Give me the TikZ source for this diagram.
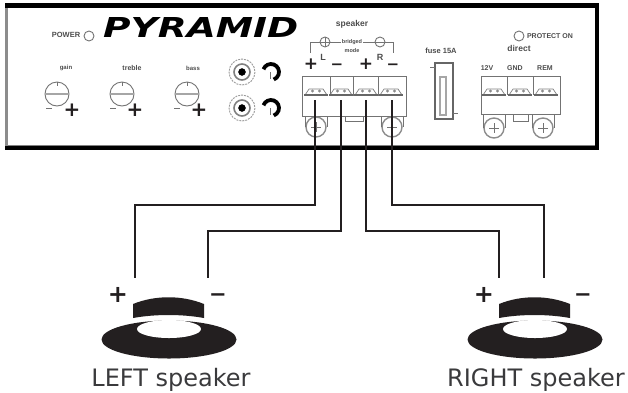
\documentclass[tikz,border=0pt]{standalone}
\usepackage{fontspec}
\setmainfont{DejaVu Sans}
\newfontfamily\tinyfont{Liberation Sans}
\usetikzlibrary{calc}
\definecolor{inkblack}{HTML}{231F20}
\definecolor{inkgray}{HTML}{3A3A3C}
\tikzset{
	wire/.style={line width=2pt, color=inkblack},
	faint/.style={line width=0.9pt, color=black!55},
	faintbar/.style={line width=2.6pt, color=black!35},
	tinytext/.style={font=\tinyfont\bfseries\fontsize{#1}{#1}\selectfont, text=black!70, inner sep=0pt},
	tinytext/.default=6,
	pluslabel/.style={font=\bfseries\fontsize{#1}{#1}\selectfont, text=inkblack, inner sep=0pt},
	caption/.style={font=\fontsize{24}{24}\selectfont, text=inkgray, inner sep=0pt, anchor=base}
}
\def\knobdial(#1,#2){
	\draw[faint] (#1, #2) circle (12);
	\draw[faintbar] (#1-11, #2) -- (#1+11, #2);
	\draw[faint] (#1, #2-12) -- (#1, #2-8);
}
\def\jackplug(#1,#2){
	\draw[line width=0.9pt, color=black!40, dash pattern=on 2pt off 1pt] (#1, #2) circle (13);
	\draw[line width=1.6pt, color=black!50] (#1, #2) circle (8);
	\draw[fill=black] (#1, #2) circle (3.5);
	\draw[line width=3.8pt, color=black] ($(#1+29, #2)+(-160:8)$) arc (-160:70:8);
	\draw[faint] (#1+28, #2) -- (#1+28, #2+7);
}
\def\screwear(#1,#2,#3){
	\draw[line width=1.4pt, color=black!45] (#1, #2) circle (10);
	\draw[faint] (#1-5, #2) -- (#1+5, #2);
	\draw[faint] (#1, #2-5) -- (#1, #2+5);
	\draw[faint] (#1-11, #3) -- (#1-11, #2);
	\draw[faint] (#1+11, #3) -- (#1+11, #2);
}
\def\termhump(#1,#2){
	\draw[draw=black!50, line width=0.7pt] (#1-11, #2) -- (#1-7, #2-6) -- (#1+7, #2-6) -- (#1+11, #2);
	\fill[black!45] (#1-3.5, #2-4) circle (1.6);
	\fill[black!45] (#1+3.5, #2-4) circle (1.6);
	\draw[line width=2pt, color=black!60] (#1-12, #2) -- (#1+12, #2);
}

\begin{document}
\begin{tikzpicture}[x=1pt, y=-1pt]
	%%%%% PANEL %%%%%
	\useasboundingbox (0, 0) rectangle (628, 392);
	\draw[line width=2.5pt, color=black!45] (6.5, 5) -- (6.5, 148);
	\draw[line width=4.5pt, color=black] (5, 5.5) -- (597, 5.5) -- (597, 148);
	\draw[line width=1pt, color=black!50] (8, 145.5) -- (595, 145.5);
	\draw[line width=3.5pt, color=black] (5, 148.2) -- (599, 148.2);

	\node[inner sep=0pt, anchor=west] (brand) at (103, 27) {\resizebox{195pt}{20pt}{\bfseries\itshape PYRAMID}};
	\node[tinytext=7.5] (power) at (66, 35) {POWER};
	\draw[faint] (89, 36) circle (5);

	%%%%% KNOBS %%%%%
	\node[tinytext] (gain) at (66, 68) {gain};
	\node[tinytext=7] (treble) at (132, 68) {treble};
	\node[tinytext] (bass) at (193, 68) {bass};
	\knobdial(57, 94)
	\knobdial(122, 94)
	\knobdial(187, 94)
	\node[pluslabel=20] (gainplus) at (72, 110) {+};
	\node[pluslabel=20] (trebleplus) at (135, 110) {+};
	\node[pluslabel=20] (bassplus) at (199, 110) {+};
	\draw[faint] (46, 108) -- (52, 108);
	\draw[faint] (110, 108) -- (116, 108);
	\draw[faint] (174, 108) -- (180, 108);

	\jackplug(242, 72)
	\jackplug(242, 108)

	%%%%% SPEAKER BLOCK %%%%%
	\node[tinytext=8.5] (speakerhead) at (352, 24) {speaker};
	\node[tinytext=5.5] (bridged) at (352, 42) {bridged};
	\node[tinytext=5.5] (mode) at (352, 51) {mode};
	\node[tinytext=9] (lefthead) at (323, 57) {L};
	\node[tinytext=9] (righthead) at (380, 57) {R};
	\draw[faint] (310, 53) -- (310, 42) -- (320, 42);
	\draw[faint] (330, 42) -- (341, 42);
	\draw[faint] (363, 42) -- (375, 42);
	\draw[faint] (385, 42) -- (393, 42) -- (393, 53);
	\draw[faint] (325, 42) circle (5);
	\draw[faint] (380, 42) circle (5);
	\draw[faint] (375, 42) -- (385, 42);
	\draw[faint] (325, 37) -- (325, 47);
	\draw[faint] (320, 42) -- (330, 42);

	\node[pluslabel=17] (blockplusa) at (311, 64) {+};
	\node[pluslabel=15] (blockminusa) at (337, 67) {−};
	\node[pluslabel=17] (blockplusb) at (366, 64) {+};
	\node[pluslabel=15] (blockminusb) at (393, 67) {−};

	\draw[faint] (302, 76) rectangle (406, 116);
	\draw[faint] (330, 76) -- (330, 96);
	\draw[faint] (353, 76) -- (353, 96);
	\draw[faint] (378, 76) -- (378, 96);
	\termhump(316, 95)
	\termhump(341, 95)
	\termhump(366, 95)
	\termhump(391, 95)
	\draw[faint] (345, 116) -- (345, 121) -- (363, 121) -- (363, 116);
	\screwear(316, 127, 116)
	\screwear(392, 127, 116)

	%%%%% FUSE %%%%%
	\node[tinytext=7.5] (fuselabel) at (441, 51) {fuse 15A};
	\draw[line width=1.1pt, color=black!60] (435, 63) rectangle (453, 119);
	\draw[faintbar, line width=1.4pt] (440, 77) rectangle (446, 115);
	\draw[faint] (430, 67) -- (435, 67);
	\draw[faint] (453, 113) -- (458, 113);

	%%%%% POWER BLOCK %%%%%
	\draw[faint] (519, 36) circle (5);
	\node[tinytext=7] (protect) at (550, 36) {PROTECT ON};
	\node[tinytext=8.5] (direct) at (519, 48) {direct};
	\node[tinytext=7] (ctn) at (487, 68) {12V};
	\node[tinytext=7] (gnd) at (515, 68) {GND};
	\node[tinytext=7] (rem) at (545, 68) {REM};
	\draw[faint] (481, 76) rectangle (560, 114);
	\draw[faint] (507, 76) -- (507, 95);
	\draw[faint] (533, 76) -- (533, 95);
	\termhump(494, 95)
	\termhump(520, 95)
	\termhump(546, 95)
	\draw[faint] (513, 114) -- (513, 121) -- (528, 121) -- (528, 114);
	\screwear(494, 128, 114)
	\screwear(543, 128, 114)

	%%%%% SPEAKERS %%%%%
	\foreach \name/\shift in {left/0, right/366} {
		\begin{scope}[xshift=\shift pt]
			\draw[fill=inkblack, draw=none] (133, 318) -- (133, 304) .. controls (155, 295) and (182, 295) .. (204, 304) -- (204, 318) .. controls (182, 314) and (155, 314) .. (133, 318) -- cycle;
			\fill[inkblack] (169, 339.5) ellipse (67.5 and 19);
			\fill[white] (169, 329) ellipse (32 and 9);
		\end{scope}
	}
	\node[pluslabel=24] (leftplus) at (118, 295) {+};
	\node[pluslabel=21] (leftminus) at (218, 298) {−};
	\node[pluslabel=24] (rightplus) at (484, 295) {+};
	\node[pluslabel=21] (rightminus) at (583, 298) {−};
	\node[caption] (leftname) at (171, 386) {LEFT speaker};
	\node[caption] (rightname) at (536, 386) {RIGHT speaker};

	%%%%% WIRES %%%%%
	\coordinate (termlp) at (315, 100);
	\coordinate (termlm) at (341, 100);
	\coordinate (termrp) at (366, 100);
	\coordinate (termrm) at (392, 100);
	\coordinate (spklp) at (135, 278);
	\coordinate (spklm) at (208, 278);
	\coordinate (spkrp) at (499, 278);
	\coordinate (spkrm) at (544, 278);
	\draw[wire] (termlp) -- (termlp |- 0, 205) -- (spklp |- 0, 205) -- (spklp);
	\draw[wire] (termlm) -- (termlm |- 0, 231) -- (spklm |- 0, 231) -- (spklm);
	\draw[wire] (termrp) -- (termrp |- 0, 231) -- (spkrp |- 0, 231) -- (spkrp);
	\draw[wire] (termrm) -- (termrm |- 0, 205) -- (spkrm |- 0, 205) -- (spkrm);
\end{tikzpicture}
\end{document}
